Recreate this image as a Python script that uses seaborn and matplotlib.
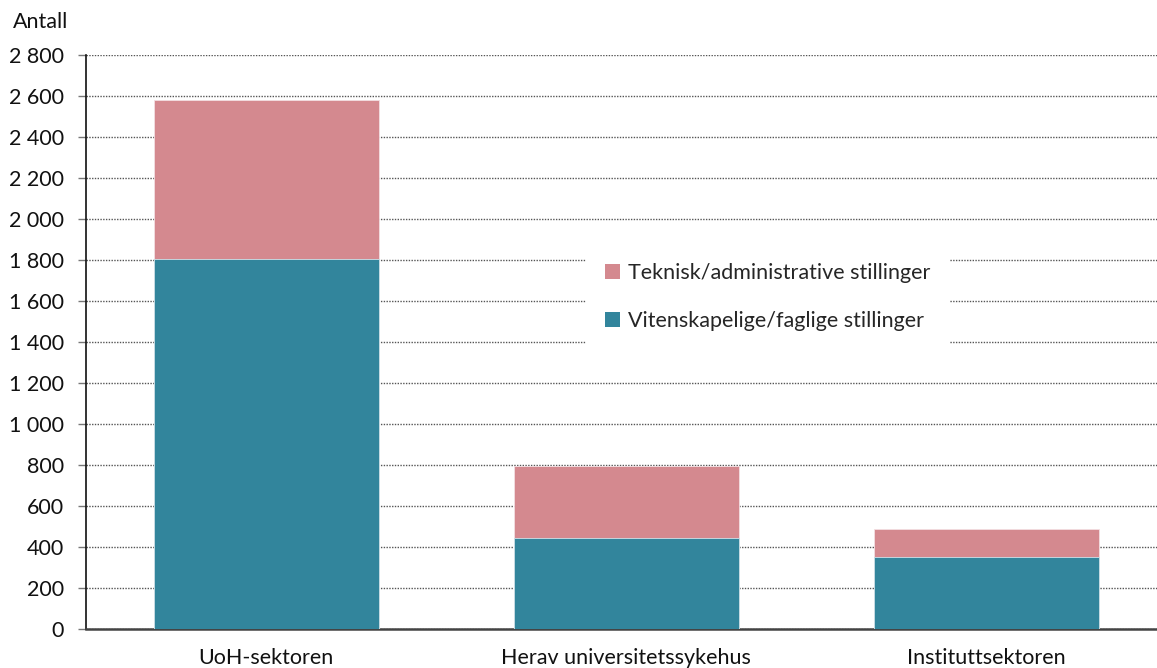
import matplotlib
matplotlib.use("Agg")
import matplotlib.pyplot as plt
import matplotlib.ticker as mticker
from matplotlib.patches import Patch
import pandas as pd
import seaborn as sns

categories = ["UoH-sektoren", "Herav universitetssykehus", "Instituttsektoren"]
vitenskapelige = [1805, 444, 351]
teknisk = [775, 351, 137]
series_labels = ["Teknisk/administrative stillinger", "Vitenskapelige/faglige stillinger"]
y_ticks = list(range(0, 2801, 200))

pink = "#D4898F"
teal = "#32859C"

sns.set_theme(style="white")
plt.rcParams["font.family"] = ["Lato", "DejaVu Sans"]

df = pd.DataFrame({
    "sektor": categories,
    "vit": vitenskapelige,
    "tek": teknisk,
})
df["total"] = df["vit"] + df["tek"]

fig = plt.figure(figsize=(11.57, 6.68), dpi=100)
ax = fig.add_axes([86 / 1157, 1 - 629 / 668, 1080 / 1157, 574 / 668])

sns.barplot(data=df, x="sektor", y="total", color=pink, width=0.625,
            saturation=1, ax=ax, zorder=3, linewidth=0.6, edgecolor="#f3dfe2")
sns.barplot(data=df, x="sektor", y="vit", color=teal, width=0.625,
            saturation=1, ax=ax, zorder=3, linewidth=0.6, edgecolor="#cfe3ea")

ax.set_xlim(-0.5, 2.5)
ax.set_ylim(0, 2800)
ax.set_yticks(y_ticks)
ax.yaxis.set_major_formatter(mticker.FuncFormatter(
    lambda v, _: f"{int(v):,}".replace(",", " ")))
ax.yaxis.grid(True, linestyle=(0, (1, 1)), color="#555555", linewidth=1.0, zorder=0)
ax.set_axisbelow(True)

fs = 15.5
ax.set_xlabel("")
ax.set_ylabel("")
ax.set_xticks([0, 1, 2])
ax.set_xticklabels(categories, fontsize=fs, color="#111111")
ax.set_xticks([0.5, 1.5], minor=True)
ax.tick_params(axis="x", which="major", length=0, pad=14)
ax.tick_params(axis="x", which="minor", length=5, width=1, color="#444444", direction="out")
ax.tick_params(axis="y", labelsize=fs, labelcolor="#111111", length=6,
               width=1, color="#777777", direction="out", left=True, pad=10)

for side in ["top", "right"]:
    ax.spines[side].set_visible(False)
ax.spines["left"].set_color("#111111")
ax.spines["left"].set_linewidth(1.2)
ax.spines["bottom"].set_color("#444444")
ax.spines["bottom"].set_linewidth(1.8)

fig.text(13 / 1157, 1 - 22 / 668, "Antall", fontsize=fs, color="#111111",
         va="center", ha="left")

handles = [Patch(facecolor=pink, edgecolor="none"), Patch(facecolor=teal, edgecolor="none")]
leg = ax.legend(handles, series_labels, loc="center left",
                bbox_to_anchor=(575 / 1157, 1 - 297 / 668),
                bbox_transform=fig.transFigure, frameon=True, fontsize=fs,
                handlelength=0.7, handleheight=0.7, handletextpad=0.35,
                labelspacing=1.3, borderpad=0.9, fancybox=False)
leg.get_frame().set_facecolor("white")
leg.get_frame().set_edgecolor("none")
leg.get_frame().set_alpha(1)
leg.set_zorder(5)

fig.savefig("out.png", dpi=100)
